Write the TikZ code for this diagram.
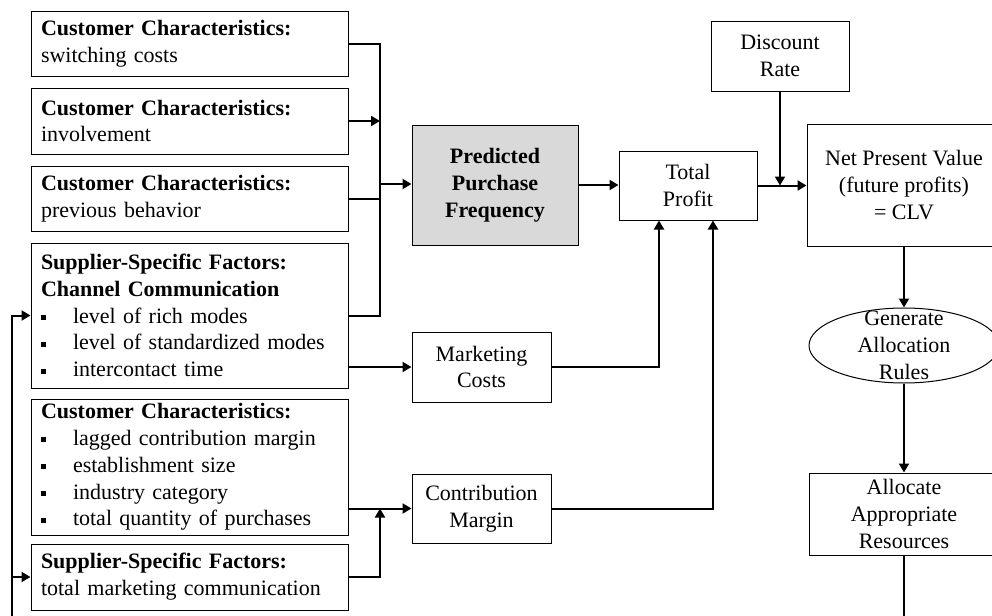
\documentclass[tikz,border=0pt]{standalone}
\usepackage{fontspec}
\setmainfont{Liberation Serif}
\usepackage{tikz}
\usetikzlibrary{arrows.meta}
\usetikzlibrary{shapes.geometric}
\usetikzlibrary{positioning}

\newcommand{\figFont}{\fontsize{11}{13.4}\selectfont}
\newcommand{\bulletItem}[1]{\makebox[16pt][l]{\rule[1.6pt]{2.5pt}{2.5pt}}#1}

\tikzset{
	factorBox/.style={draw, line width=0.5pt, align=left, text width=148.5pt, inner xsep=5pt, inner ysep=1pt},
	stepBox/.style={draw, line width=0.5pt, align=center, inner sep=1pt},
	flowLine/.style={line width=1pt},
	flowArrow/.style={line width=1pt, -{Triangle[length=4.5pt,width=5pt]}}
}

\begin{document}
\begin{tikzpicture}[x=0.5pt, y=-0.5pt, font=\figFont]
		\useasboundingbox (0,0) rectangle (992,616);
		\clip (0,0) rectangle (992,616);		% picture is cut at right and bottom
		
		% drivers on the left
		\node[factorBox, minimum height=32.5pt] (cc1) at (189.5,43.5) {\textbf{Customer Characteristics:}\\switching costs};
		\node[factorBox, minimum height=33pt] (cc2) at (189.5,121) {\textbf{Customer Characteristics:}\\involvement};
		\node[factorBox, minimum height=32.5pt] (cc3) at (189.5,198.5) {\textbf{Customer Characteristics:}\\previous behavior};
		\node[factorBox, minimum height=72.5pt] (sf1) at (189.5,315.5) {\textbf{Supplier-Specific Factors:}\\\textbf{Channel Communication}\\\bulletItem{level of rich modes}\\\bulletItem{level of standardized modes}\\\bulletItem{intercontact time}};
		\node[factorBox, minimum height=68pt] (cc4) at (189.5,467) {\textbf{Customer Characteristics:}\\\bulletItem{lagged contribution margin}\\\bulletItem{establishment size}\\\bulletItem{industry category}\\\bulletItem{total quantity of purchases}};
		\node[factorBox, minimum height=33pt] (sf2) at (189.5,577) {\textbf{Supplier-Specific Factors:}\\total marketing communication};
		
		% middle column
		\node[stepBox, fill=black!15, minimum width=83pt, minimum height=60pt, font=\figFont\bfseries] (ppf) at (495,185) {Predicted\\Purchase\\Frequency};
		\node[stepBox, minimum width=69.5pt, minimum height=35pt] (mc) at (481.5,367) {Marketing\\Costs};
		\node[stepBox, minimum width=69.5pt, minimum height=34.5pt] (cm) at (481.5,508.5) {Contribution\\Margin};
		\node[stepBox, minimum width=69pt, minimum height=34.5pt] (tp) at (688,185.5) {Total\\Profit};
		\node[stepBox, minimum width=69pt, minimum height=35pt] (dr) at (780,56) {Discount\\Rate};
		
		% right column
		\node[stepBox, minimum width=97pt, minimum height=61pt] (npv) at (904,185) {Net Present Value\\(future profits)\\= CLV};
		\node[draw, ellipse, line width=0.5pt, minimum width=95pt, minimum height=37.5pt, inner sep=0pt,
			label={[align=center, font=\figFont]center:Generate\\Allocation\\Rules}] (gen) at (904,345.5) {};
		\node[stepBox, minimum width=95pt, minimum height=41pt] (alloc) at (904,514) {Allocate\\Appropriate\\Resources};
		
		% bus into predicted purchase frequency
		\coordinate (bus) at (380,184);
		\draw[flowLine] (cc1.east) -| (bus);
		\draw[flowLine] (sf1.east) -| (bus);
		\draw[flowLine] (cc3.east) -- (cc3.east -| bus);
		\draw[flowArrow] (cc2.east) -- (cc2.east -| bus);
		\draw[flowArrow] (bus) -- (bus -| ppf.west);
		
		% profit side
		\draw[flowArrow] (ppf.east) -- (ppf.east -| tp.west);
		\draw[flowArrow] (tp.east) -- (tp.east -| npv.west);
		\draw[flowArrow] (dr.south) -- (dr.south |- tp.east);
		\draw[flowArrow] (mc.west -| sf1.east) -- (mc.west);
		\draw[flowArrow] (mc.east) -| ([xshift=-14.5pt]tp.south);
		\draw[flowArrow] (cm.west -| cc4.east) -- (cm.west);
		\draw[flowArrow] (cm.east) -| ([xshift=12.5pt]tp.south);
		\draw[flowArrow] (sf2.east) -| (bus |- cm.west);
		
		% clv to resources and back
		\draw[flowArrow] (npv.south) -- (gen.north);
		\draw[flowArrow] (gen.south) -- (alloc.north);
		\coordinate (loopR) at (904,640);
		\coordinate (loopL) at (12,640);
		\draw[flowLine] (alloc.south) -- (loopR);
		\draw[flowArrow] (loopL) |- (sf1.west);
		\draw[flowArrow] (loopL |- sf2.west) -- (sf2.west);
\end{tikzpicture}
\end{document}
